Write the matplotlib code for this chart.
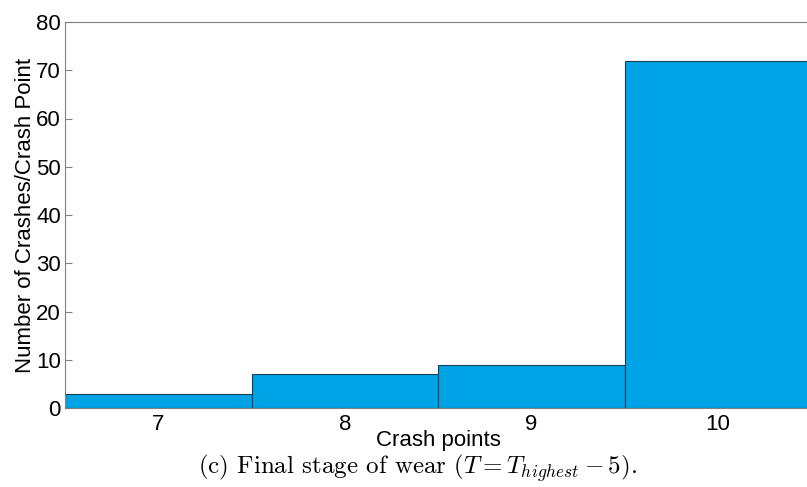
import matplotlib
matplotlib.use("Agg")
import matplotlib.pyplot as plt

# crash counts per crash point
points = [7, 8, 9, 10]
counts = [3, 7, 9, 72]

plt.rcParams['font.family'] = 'Liberation Sans'
plt.rcParams['mathtext.fontset'] = 'cm'

fig = plt.figure(figsize=(8.07, 4.87), dpi=100)
ax = fig.add_axes([65 / 807, 79 / 487, 746 / 807, 386 / 487])

ax.bar(points, counts, width=1.0, color='#00a3e6', edgecolor='#1c3c52', linewidth=0.8)

ax.set_xlim(6.5, 10.5)
ax.set_ylim(0, 80)
ax.set_xticks(points)
ax.set_yticks(range(0, 81, 10))
ax.tick_params(axis='both', labelsize=16, direction='in', length=5, color='#808080')
ax.tick_params(axis='x', length=0, pad=4)
ax.tick_params(axis='y', pad=3)
for side in ['left', 'top', 'bottom']:
    ax.spines[side].set_color('#808080')
ax.spines['right'].set_visible(False)

ax.set_ylabel('Number of Crashes/Crash Point', fontsize=16, labelpad=0)
ax.set_xlabel('Crash points', fontsize=16, labelpad=-3)

fig.text(418 / 807, 1 - 468 / 487, r'(c) Final stage of wear ($T = T_{highest} - 5$).',
         family='cmr10', fontsize=18, ha='center', va='center')

fig.savefig('out.png', dpi=100)
